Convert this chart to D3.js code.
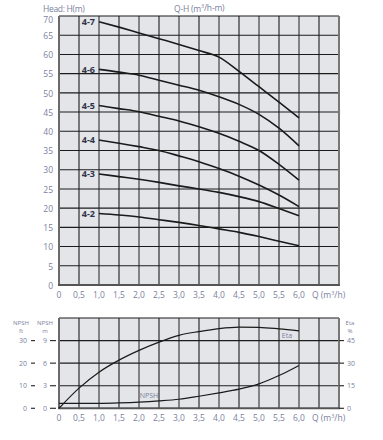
<!DOCTYPE html>
<html><head><meta charset="utf-8">
<script src="https://cdn.jsdelivr.net/npm/d3@7"></script>
<style>
html,body{margin:0;padding:0;background:#fff;}
svg text{font-family:"Open Sans",sans-serif;}
</style></head>
<body>
<svg id="c" width="383" height="440"></svg>
<script>
// ---- data ----
const qTicks = [0,0.5,1.0,1.5,2.0,2.5,3.0,3.5,4.0,4.5,5.0,5.5,6.0];
const qTickLabels = ["0","0,5","1,0","1,5","2,0","2,5","3,0","3,5","4,0","4,5","5,0","5,5","6,0"];
const hTicks = [0,5,10,15,20,25,30,35,40,45,50,55,60,65,70];
const qHead = [1.0,1.5,2.0,2.5,3.0,3.5,4.0,4.5,5.0,5.5,6.0];
const pumpNames = ["4-7","4-6","4-5","4-4","4-3","4-2"];
const h47 = [68.5,67.1,65.6,64.1,62.6,61.0,59.3,55.6,51.6,47.6,43.5];
const h46 = [56.1,55.4,54.6,53.3,52.0,50.7,49.0,47.0,44.4,40.8,36.2];
const h45 = [46.7,45.9,45.1,43.9,42.7,41.2,39.5,37.4,35.0,31.4,27.3];
const h44 = [37.7,36.9,36.0,35.0,33.6,32.1,30.3,28.3,26.0,23.4,20.4];
const h43 = [28.9,28.2,27.5,26.7,25.8,25.0,24.1,23.0,21.7,19.9,18.0];
const h42 = [18.6,18.2,17.7,17.0,16.3,15.5,14.6,13.7,12.6,11.4,10.2];
const qLow = [0,0.5,1.0,1.5,2.0,2.5,3.0,3.5,4.0,4.5,5.0,5.5,6.0];
const etaPct = [0,13.4,24,32,38.5,44,48.5,51,53,54,53.8,52.8,51.5];
const npshM = [0.65,0.65,0.66,0.72,0.82,0.98,1.2,1.6,2.05,2.55,3.25,4.35,5.7];
const npshMTicks = [0,3,6,9];
const npshFtTicks = [0,10,20,30];
const etaTicks = [0,15,30,45];

const headSeries = [h47,h46,h45,h44,h43,h42];
const txtCol = "#7b7f9e";
const svg = d3.select("#c");

const x = d3.scaleLinear().domain([0,7]).range([59,339]);
const yH = d3.scaleLinear().domain([0,70]).range([285,16]);
const yN = d3.scaleLinear().domain([0,12]).range([408.3,318]);
const yE = d3.scaleLinear().domain([0,60]).range([408.3,318]);

function panel(y, hLines){
  const g = svg.append("g");
  g.append("rect").attr("x",x(0)).attr("y",y.range()[1]).attr("width",x(7)-x(0))
    .attr("height",y.range()[0]-y.range()[1]).attr("fill","#e4e5e9");
  g.selectAll("line.v").data(d3.range(1,14).map(i=>i*0.5)).enter().append("line")
    .attr("x1",d=>x(d)).attr("x2",d=>x(d)).attr("y1",y.range()[1]).attr("y2",y.range()[0])
    .attr("stroke",(d,i)=> i%2===1 ? "#6a6a6a":"#1c1c1c").attr("stroke-width",(d,i)=> i%2===1?1.6:1.1);
  g.selectAll("line.h").data(hLines).enter().append("line")
    .attr("x1",x(0)).attr("x2",x(7)).attr("y1",d=>y(d)).attr("y2",d=>y(d))
    .attr("stroke","#1c1c1c").attr("stroke-width",1.1);
  g.append("line").attr("x1",x(0)).attr("x2",x(7)).attr("y1",y.range()[1]).attr("y2",y.range()[1])
    .attr("stroke","#1c1c1c").attr("stroke-width",1.1);
  g.append("line").attr("x1",x(0)).attr("x2",x(0)).attr("y1",y.range()[1]).attr("y2",y.range()[0])
    .attr("stroke","#6a6a6a").attr("stroke-width",2);
  g.append("line").attr("x1",x(7)).attr("x2",x(7)).attr("y1",y.range()[1]).attr("y2",y.range()[0])
    .attr("stroke","#777").attr("stroke-width",2);
  g.append("line").attr("x1",x(0)-1).attr("x2",x(7)+1).attr("y1",y.range()[0]).attr("y2",y.range()[0])
    .attr("stroke","#555").attr("stroke-width",2);
  const yl = y.range()[0] + 10;
  g.selectAll("text.xt").data(qTicks).enter().append("text")
    .attr("x",d=>x(d)).attr("y",yl).attr("dy","0.35em").attr("text-anchor","middle")
    .attr("font-size",8.5).attr("fill",txtCol).text((d,i)=>qTickLabels[i]);
  const ql = g.append("text").attr("x",312).attr("y",yl).attr("dy","0.35em")
    .attr("font-size",8.5).attr("fill",txtCol);
  ql.append("tspan").text("Q (m");
  ql.append("tspan").attr("font-size",5.5).attr("dy","-0.55em").text("3");
  ql.append("tspan").attr("dy","0.3em").text("/h)");
}

panel(yH, hTicks.filter(d=>d>0 && d<70));
panel(yN, npshMTicks.filter(d=>d>0));

// top chart axis labels
svg.selectAll("text.yt").data(hTicks).enter().append("text")
  .attr("x",53).attr("y",d=>Math.max(yH(d)+0.8, 20.5)).attr("dy","0.35em").attr("text-anchor","end")
  .attr("font-size",8.5).attr("fill",txtCol).text(d=>d);
svg.append("text").attr("x",43).attr("y",11.5).attr("font-size",8.5).attr("fill",txtCol)
  .attr("letter-spacing",-0.3).text("Head: H(m)");
const tt = svg.append("text").attr("x",174).attr("y",11.5).attr("font-size",8.5).attr("fill",txtCol)
  .attr("letter-spacing",-0.2);
tt.append("tspan").text("Q-H (m");
tt.append("tspan").attr("font-size",5.5).attr("dy","-0.55em").text("3");
tt.append("tspan").attr("dy","0.3em").text("/h-m)");

// head curves
const lineH = d3.line().x((d,i)=>x(qHead[i])).y(d=>yH(d)).curve(d3.curveMonotoneX);
svg.selectAll("path.h").data(headSeries).enter().append("path")
  .attr("d",lineH).attr("fill","none").attr("stroke","#1a1a1a").attr("stroke-width",1.6);
svg.selectAll("text.pn").data(pumpNames).enter().append("text")
  .attr("x",x(1.0)-4).attr("y",(d,i)=>yH(headSeries[i][0])).attr("dy","0.35em")
  .attr("text-anchor","end").attr("font-size",9).attr("font-weight","bold")
  .attr("fill","#2f3345").text(d=>d);

// bottom chart curves
const lineE = d3.line().x((d,i)=>x(qLow[i])).y(d=>yE(d)).curve(d3.curveMonotoneX);
const lineN = d3.line().x((d,i)=>x(qLow[i])).y(d=>yN(d)).curve(d3.curveMonotoneX);
svg.append("path").attr("d",lineE(etaPct)).attr("fill","none").attr("stroke","#1a1a1a").attr("stroke-width",1.2);
svg.append("path").attr("d",lineN(npshM)).attr("fill","none").attr("stroke","#1a1a1a").attr("stroke-width",1.2);
svg.append("text").attr("x",x(5.7)).attr("y",yE(48.5)).attr("dy","0.35em").attr("text-anchor","middle")
  .attr("font-size",7).attr("fill",txtCol).text("Eta");
svg.append("text").attr("x",x(2.25)).attr("y",yN(1.65)).attr("dy","0.35em").attr("text-anchor","middle")
  .attr("font-size",7).attr("fill",txtCol).text("NPSH");

// bottom left axes (m and ft)
const gm = svg.append("g");
gm.selectAll("line").data(npshMTicks).enter().append("line")
  .attr("x1",50).attr("x2",56).attr("y1",d=>yN(d)).attr("y2",d=>yN(d)).attr("stroke","#333").attr("stroke-width",1.2);
gm.selectAll("text").data(npshMTicks).enter().append("text")
  .attr("x",47).attr("y",d=>yN(d)).attr("dy","0.35em").attr("text-anchor","end")
  .attr("font-size",7).attr("fill",txtCol).text(d=>d);
const gf = svg.append("g");
gf.selectAll("line").data(npshFtTicks).enter().append("line")
  .attr("x1",31).attr("x2",35).attr("y1",(d,i)=>yN(npshMTicks[i])).attr("y2",(d,i)=>yN(npshMTicks[i]))
  .attr("stroke","#333").attr("stroke-width",1.2);
gf.selectAll("text").data(npshFtTicks).enter().append("text")
  .attr("x",27).attr("y",(d,i)=>yN(npshMTicks[i])).attr("dy","0.35em").attr("text-anchor","end")
  .attr("font-size",7).attr("fill",txtCol).text(d=>d);
[[21,"NPSH","ft"],[45,"NPSH","m"]].forEach(([cx,a,b])=>{
  svg.append("text").attr("x",cx).attr("y",323).attr("dy","0.35em").attr("text-anchor","middle")
    .attr("font-size",6).attr("fill",txtCol).text(a);
  svg.append("text").attr("x",cx).attr("y",331.3).attr("dy","0.35em").attr("text-anchor","middle")
    .attr("font-size",6).attr("fill",txtCol).text(b);
});
// right eta axis
const ge = svg.append("g");
ge.selectAll("line").data(etaTicks).enter().append("line")
  .attr("x1",339).attr("x2",344).attr("y1",d=>yE(d)).attr("y2",d=>yE(d)).attr("stroke","#333").attr("stroke-width",1.2);
ge.selectAll("text").data(etaTicks).enter().append("text")
  .attr("x",347).attr("y",d=>yE(d)).attr("dy","0.35em")
  .attr("font-size",7).attr("fill",txtCol).text(d=>d);
svg.append("text").attr("x",350).attr("y",323).attr("dy","0.35em").attr("text-anchor","middle")
  .attr("font-size",6).attr("fill",txtCol).text("Eta");
svg.append("text").attr("x",350).attr("y",331.3).attr("dy","0.35em").attr("text-anchor","middle")
  .attr("font-size",6).attr("fill",txtCol).text("%");
</script>
</body></html>
